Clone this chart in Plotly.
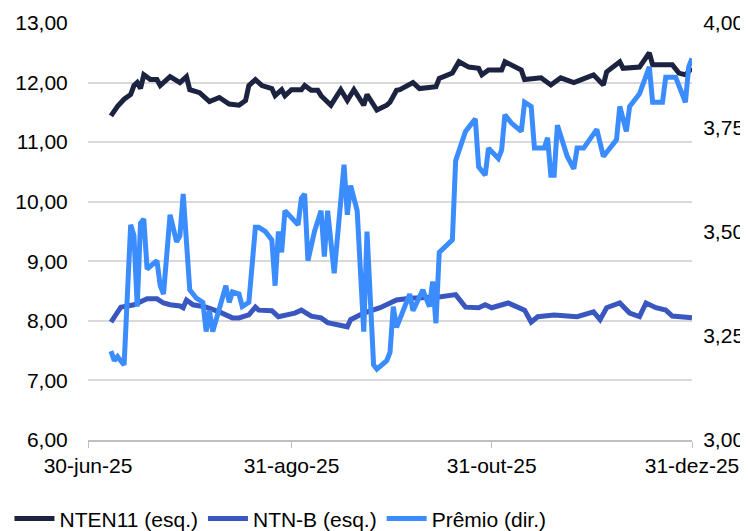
import plotly.graph_objects as go

nten_dates = ["2025-07-07", "2025-07-09", "2025-07-11", "2025-07-13", "2025-07-14", "2025-07-15", "2025-07-16",
              "2025-07-17", "2025-07-19", "2025-07-21", "2025-07-22", "2025-07-25", "2025-07-28", "2025-07-30",
              "2025-07-31", "2025-08-03", "2025-08-06", "2025-08-09", "2025-08-12", "2025-08-15", "2025-08-17",
              "2025-08-18", "2025-08-20", "2025-08-22", "2025-08-25", "2025-08-26", "2025-08-28", "2025-08-29",
              "2025-08-31", "2025-09-03", "2025-09-04", "2025-09-06", "2025-09-08", "2025-09-09", "2025-09-12",
              "2025-09-15", "2025-09-17", "2025-09-19", "2025-09-22", "2025-09-23", "2025-09-26", "2025-09-29",
              "2025-09-30", "2025-10-02", "2025-10-03", "2025-10-07", "2025-10-09", "2025-10-14", "2025-10-15",
              "2025-10-19", "2025-10-21", "2025-10-24", "2025-10-27", "2025-10-28", "2025-10-30", "2025-11-03",
              "2025-11-04", "2025-11-09", "2025-11-10", "2025-11-15", "2025-11-18", "2025-11-21", "2025-11-25",
              "2025-12-01", "2025-12-04", "2025-12-05", "2025-12-09", "2025-12-10", "2025-12-15", "2025-12-18",
              "2025-12-19", "2025-12-25", "2025-12-27", "2025-12-29", "2025-12-31"]
nten_vals = [11.44, 11.6, 11.72, 11.8, 11.95, 12.0, 11.9,
             12.13, 12.05, 12.05, 11.95, 12.1, 12.0, 12.1,
             11.88, 11.83, 11.68, 11.75, 11.64, 11.62, 11.7,
             11.95, 12.05, 11.95, 11.9, 11.78, 11.88, 11.78,
             11.88, 11.88, 11.95, 11.87, 11.87, 11.78, 11.62,
             11.88, 11.7, 11.88, 11.62, 11.8, 11.54, 11.62,
             11.67, 11.87, 11.88, 12.0, 11.9, 11.93, 12.07,
             12.16, 12.35, 12.26, 12.24, 12.13, 12.21, 12.21,
             12.35, 12.21, 12.05, 12.08, 11.96, 12.08, 12.0,
             12.13, 11.96, 12.18, 12.35, 12.24, 12.26, 12.5,
             12.3, 12.3, 12.16, 12.13, 12.24]

ntnb_dates = ["2025-07-07", "2025-07-10", "2025-07-14", "2025-07-18", "2025-07-21", "2025-07-23", "2025-07-25",
              "2025-07-28", "2025-07-29", "2025-07-30", "2025-08-01", "2025-08-05", "2025-08-09", "2025-08-13",
              "2025-08-15", "2025-08-18", "2025-08-20", "2025-08-21", "2025-08-25", "2025-08-27", "2025-09-01",
              "2025-09-03", "2025-09-06", "2025-09-09", "2025-09-11", "2025-09-17", "2025-09-18", "2025-09-22",
              "2025-09-27", "2025-10-02", "2025-10-06", "2025-10-15", "2025-10-20", "2025-10-23", "2025-10-27",
              "2025-10-29", "2025-10-31", "2025-11-05", "2025-11-10", "2025-11-12", "2025-11-14", "2025-11-19",
              "2025-11-26", "2025-12-01", "2025-12-03", "2025-12-05", "2025-12-09", "2025-12-12", "2025-12-15",
              "2025-12-17", "2025-12-20", "2025-12-23", "2025-12-25", "2025-12-31"]
ntnb_vals = [7.98, 8.23, 8.27, 8.37, 8.37, 8.30, 8.27,
             8.25, 8.22, 8.35, 8.27, 8.23, 8.15, 8.05,
             8.05, 8.10, 8.23, 8.18, 8.17, 8.07, 8.13,
             8.18, 8.08, 8.05, 7.97, 7.90, 8.02, 8.13,
             8.22, 8.35, 8.38, 8.40, 8.44, 8.23, 8.22,
             8.27, 8.22, 8.30, 8.18, 7.98, 8.07, 8.10,
             8.07, 8.15, 8.02, 8.22, 8.30, 8.13, 8.07,
             8.30, 8.22, 8.18, 8.08, 8.05]

premio_dates = ["2025-07-07", "2025-07-08", "2025-07-09", "2025-07-11", "2025-07-13", "2025-07-14", "2025-07-15",
                "2025-07-16", "2025-07-17", "2025-07-18", "2025-07-21", "2025-07-22", "2025-07-23", "2025-07-25",
                "2025-07-27", "2025-07-28", "2025-07-29", "2025-07-31", "2025-08-02", "2025-08-04", "2025-08-05",
                "2025-08-06", "2025-08-07", "2025-08-11", "2025-08-12", "2025-08-13", "2025-08-15", "2025-08-16",
                "2025-08-18", "2025-08-20", "2025-08-21", "2025-08-23", "2025-08-25", "2025-08-26", "2025-08-27",
                "2025-08-28", "2025-08-29", "2025-09-02", "2025-09-03", "2025-09-04", "2025-09-05", "2025-09-07",
                "2025-09-09", "2025-09-10", "2025-09-11", "2025-09-13", "2025-09-16", "2025-09-17", "2025-09-18",
                "2025-09-20", "2025-09-22", "2025-09-23", "2025-09-25", "2025-09-26", "2025-09-29", "2025-09-30",
                "2025-10-01", "2025-10-02", "2025-10-06", "2025-10-07", "2025-10-10", "2025-10-12", "2025-10-13",
                "2025-10-14", "2025-10-15", "2025-10-19", "2025-10-20", "2025-10-23", "2025-10-26", "2025-10-27",
                "2025-10-29", "2025-10-30", "2025-11-02", "2025-11-03", "2025-11-04", "2025-11-06", "2025-11-09",
                "2025-11-10", "2025-11-12", "2025-11-13", "2025-11-16", "2025-11-17", "2025-11-18", "2025-11-19",
                "2025-11-20", "2025-11-23", "2025-11-25", "2025-11-26", "2025-11-28", "2025-12-02", "2025-12-04",
                "2025-12-08", "2025-12-09", "2025-12-11", "2025-12-12", "2025-12-15", "2025-12-18", "2025-12-19",
                "2025-12-22", "2025-12-23", "2025-12-26", "2025-12-29", "2025-12-30", "2025-12-31"]
premio_vals = [3.213, 3.19, 3.20, 3.18, 3.516, 3.49, 3.32,
               3.52, 3.53, 3.41, 3.43, 3.37, 3.35, 3.54,
               3.475, 3.49, 3.59, 3.36, 3.34, 3.33, 3.26,
               3.31, 3.26, 3.37, 3.33, 3.355, 3.35, 3.32,
               3.33, 3.51, 3.51, 3.50, 3.48, 3.37, 3.50,
               3.45, 3.55, 3.516, 3.58, 3.59, 3.43, 3.50,
               3.55, 3.44, 3.55, 3.40, 3.66, 3.54, 3.61,
               3.55, 3.26, 3.50, 3.18, 3.17, 3.19, 3.21,
               3.32, 3.27, 3.35, 3.31, 3.36, 3.32, 3.38,
               3.28, 3.45, 3.48, 3.67, 3.74, 3.77, 3.655,
               3.635, 3.70, 3.675, 3.695, 3.78, 3.76, 3.74,
               3.81, 3.80, 3.70, 3.70, 3.725, 3.635, 3.635,
               3.755, 3.68, 3.65, 3.70, 3.70, 3.745, 3.68,
               3.72, 3.80, 3.74, 3.80, 3.83, 3.895, 3.81,
               3.81, 3.87, 3.87, 3.81, 3.895, 3.915]

x_ticks = ["2025-06-30", "2025-08-31", "2025-10-31", "2025-12-31"]
x_labels = ["30-jun-25", "31-ago-25", "31-out-25", "31-dez-25"]

fig = go.Figure()
fig.add_trace(go.Scatter(x=nten_dates, y=nten_vals, name="NTEN11 (esq.)", mode="lines",
                         line=dict(color="#1c2340", width=5)))
fig.add_trace(go.Scatter(x=ntnb_dates, y=ntnb_vals, name="NTN-B (esq.)", mode="lines",
                         line=dict(color="#3a57c0", width=5)))
fig.add_trace(go.Scatter(x=premio_dates, y=premio_vals, name="Prêmio (dir.)", mode="lines", yaxis="y2",
                         line=dict(color="#3b8cff", width=5)))

fig.update_layout(
    width=748, height=531,
    margin=dict(l=80, r=64, t=15, b=99, autoexpand=False),
    paper_bgcolor="white", plot_bgcolor="white",
    separators=",.",
    font=dict(family="Liberation Sans, Arial", size=21, color="black"),
    showlegend=True,
    legend=dict(orientation="h", x=-0.13, y=-0.14, xanchor="left", yanchor="top",
                font=dict(size=21), itemwidth=40, tracegroupgap=0),
    xaxis=dict(type="date", range=["2025-06-30", "2025-12-31"], tickvals=x_ticks, ticktext=x_labels,
               showgrid=False, showline=True, linecolor="#bfbfbf", linewidth=1.5,
               ticks="outside", ticklen=6, tickcolor="#bfbfbf"),
    yaxis=dict(range=[6, 13], dtick=1, tickformat=".2f", showgrid=True, gridcolor="#d9d9d9",
               gridwidth=2, zeroline=False, ticks="outside", ticklen=15, tickcolor="white"),
    yaxis2=dict(range=[3, 4], dtick=0.25, tickformat=".2f", overlaying="y", side="right",
                showgrid=False, zeroline=False, ticks="outside", ticklen=6, tickcolor="white"),
)

fig.write_html("out.html")
